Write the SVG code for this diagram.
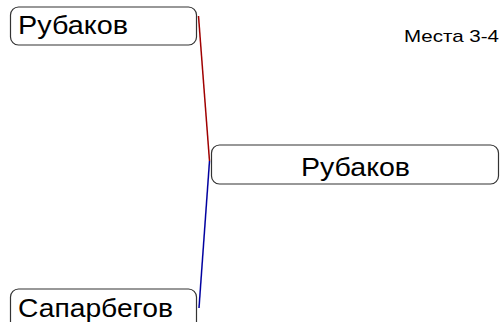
<svg xmlns="http://www.w3.org/2000/svg" width="502" height="322" viewBox="0 0 502 322">
<style>
.box{fill:#fff;stroke:#333;stroke-width:1.2}
.t{font-family:"Liberation Sans",Arial,sans-serif;fill:#000}
.n{font-size:26px}
.e{fill:none;stroke-width:1.5}
</style>
<rect width="502" height="322" fill="#fff"/>
<g id="connectors">
<line class="e" x1="198.5" y1="16" x2="209.5" y2="161" stroke="#a00000"/>
<line class="e" x1="209.5" y1="161" x2="199" y2="308" stroke="#0000a0"/>
</g>
<g id="n1">
<rect class="box" x="10.5" y="7" width="186" height="38" rx="8"/>
<text class="t n" x="18" y="34" textLength="110" lengthAdjust="spacingAndGlyphs">Рубаков</text>
</g>
<g id="n2">
<rect class="box" x="211.5" y="145" width="287" height="39" rx="8"/>
<text class="t n" x="301" y="176" textLength="109" lengthAdjust="spacingAndGlyphs">Рубаков</text>
</g>
<g id="n3">
<rect class="box" x="10.5" y="289" width="186" height="50" rx="8"/>
<text class="t n" x="18" y="317" textLength="155" lengthAdjust="spacingAndGlyphs">Сапарбегов</text>
</g>
<text class="t" x="404" y="42" font-size="17" textLength="95" lengthAdjust="spacingAndGlyphs">Места 3-4</text>
</svg>
